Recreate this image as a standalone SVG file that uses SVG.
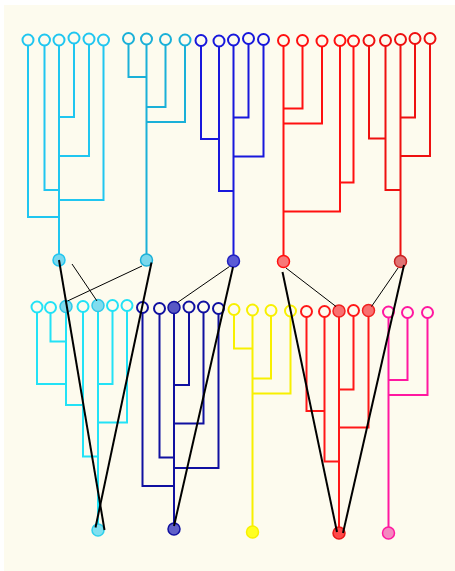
<svg xmlns="http://www.w3.org/2000/svg" width="455" height="571" viewBox="0 0 455 571">
<style>
.e{fill:none;stroke-width:2;stroke-linejoin:miter}
.lf{fill:none;stroke-width:2}
.rt{stroke-width:1.5}
.thick{stroke:#000;stroke-width:2;fill:none}
.thin{stroke:#000;stroke-width:1;fill:none}
</style>
<rect x="0" y="0" width="455" height="571" fill="#ffffff"/>
<rect x="4" y="5" width="451" height="566" fill="#fdfbee"/>

<g id="tree-top-cyan1" stroke="#20c6f0">
<path class="e" d="M28,45V217H59M44.5,45V190H59M59,45V254M74,43V117H59M89,44V156H59M103.5,45V200H59"/>
<g class="lf"><circle cx="28" cy="40" r="5.5"/><circle cx="44.5" cy="40" r="5.5"/><circle cx="59" cy="40" r="5.5"/><circle cx="74" cy="38" r="5.5"/><circle cx="89" cy="39" r="5.5"/><circle cx="103.5" cy="40" r="5.5"/></g>
<circle class="rt" cx="59" cy="260" r="6" fill="#7ad8ee"/>
</g>

<g id="tree-top-cyan2" stroke="#1ab0d8">
<path class="e" d="M128.5,44V77H146.5M146.5,44V254M165.5,45V107H146.5M185,45V122H146.5"/>
<g class="lf"><circle cx="128.5" cy="38.5" r="5.5"/><circle cx="146.5" cy="39" r="5.5"/><circle cx="165.5" cy="39.5" r="5.5"/><circle cx="185" cy="40" r="5.5"/></g>
<circle class="rt" cx="146.5" cy="260" r="6" fill="#7ad8ec"/>
</g>

<g id="tree-top-blue" stroke="#1818dc">
<path class="e" d="M201,46V139H219M219,46V191H233.5M233.5,45V255M248.5,44V117.5H233.5M263.5,45V156.5H233.5"/>
<g class="lf"><circle cx="201" cy="40.5" r="5.5"/><circle cx="219" cy="41" r="5.5"/><circle cx="233.5" cy="40" r="5.5"/><circle cx="248.5" cy="38.5" r="5.5"/><circle cx="263.5" cy="39.5" r="5.5"/></g>
<circle class="rt" cx="233.5" cy="261" r="6" fill="#5a5ad6" stroke="#2020c0"/>
</g>

<g id="tree-top-red1" stroke="#ff1010">
<path class="e" d="M283.5,46V256M302.5,46V108.5H283.5M322,46V123.5H283.5M340,46V211.5H283.5M353.5,46V182.5H340"/>
<g class="lf"><circle cx="283.5" cy="40.5" r="5.5"/><circle cx="302.5" cy="40.5" r="5.5"/><circle cx="322" cy="41" r="5.5"/><circle cx="340" cy="40.5" r="5.5"/><circle cx="353.5" cy="41" r="5.5"/></g>
<circle class="rt" cx="283.5" cy="261.5" r="6" fill="#f87878"/>
</g>

<g id="tree-top-red2" stroke="#ee1010">
<path class="e" d="M369,46V138.5H385.5M385.5,46V190H400.5M400.5,45V256M415,44V117.5H400.5M430,44V156H400.5"/>
<g class="lf"><circle cx="369" cy="40.5" r="5.5"/><circle cx="385.5" cy="40.5" r="5.5"/><circle cx="400.5" cy="39.5" r="5.5"/><circle cx="415" cy="38.5" r="5.5"/><circle cx="430" cy="38.5" r="5.5"/></g>
<circle class="rt" cx="400.5" cy="261.5" r="6" fill="#e07474" stroke="#c82020"/>
</g>

<g id="tree-bottom-cyan" stroke="#22e2f6">
<path class="e" d="M37,312V384H66M50.5,313V341.5H66M66,312V405H83M83,312V456.5H98M98,311V524M112.5,311V384H98M127,311V422.5H98"/>
<g class="lf"><circle cx="37" cy="307" r="5.5"/><circle cx="50.5" cy="307.5" r="5.5"/><circle cx="83" cy="306.5" r="5.5"/><circle cx="112.5" cy="305.5" r="5.5"/><circle cx="127" cy="305.5" r="5.5"/></g>
<circle class="rt" cx="66" cy="306.5" r="6" fill="#80dcee" stroke="#30c8e8"/>
<circle class="rt" cx="98" cy="305.5" r="6" fill="#80dcee" stroke="#30c8e8"/>
<circle class="rt" cx="98" cy="530" r="6" fill="#80e0f0" stroke="#30d0ec"/>
</g>

<g id="tree-bottom-navy" stroke="#1010a0">
<path class="e" d="M142.5,313V486H174M159.5,314V457.5H174M174,313V523M189,312V385H174M203.5,312V423.5H174M218.5,314V468H174"/>
<g class="lf"><circle cx="142.5" cy="307.5" r="5.5"/><circle cx="159.5" cy="308.5" r="5.5"/><circle cx="189" cy="307" r="5.5"/><circle cx="203.5" cy="307" r="5.5"/><circle cx="218.5" cy="308.5" r="5.5"/></g>
<circle class="rt" cx="174" cy="307.5" r="6" fill="#5858c4"/>
<circle class="rt" cx="174" cy="529" r="6" fill="#6060c8"/>
</g>

<g id="tree-bottom-yellow" stroke="#f8f000">
<path class="e" d="M234,315V348.5H252.5M252.5,315V526M271,316V378.5H252.5M290.5,316V393.5H252.5"/>
<g class="lf"><circle cx="234" cy="309.5" r="5.5"/><circle cx="252.5" cy="310" r="5.5"/><circle cx="271" cy="310.5" r="5.5"/><circle cx="290.5" cy="311" r="5.5"/></g>
<circle class="rt" cx="252.5" cy="532" r="6" fill="#ffff20"/>
</g>

<g id="tree-bottom-red" stroke="#ff1818">
<path class="e" d="M306.5,317V411H324.5M324.5,317V461.5H339M339,316V527M353.5,316V389.5H339M368.5,316V427.5H339"/>
<g class="lf"><circle cx="306.5" cy="311.5" r="5.5"/><circle cx="324.5" cy="311.5" r="5.5"/><circle cx="353.5" cy="310.5" r="5.5"/></g>
<circle class="rt" cx="339" cy="311" r="6" fill="#f87070" stroke="#f02020"/>
<circle class="rt" cx="368.5" cy="310.5" r="6" fill="#f87070" stroke="#f02020"/>
<circle class="rt" cx="339" cy="533" r="6" fill="#ff4848" stroke="#e81818"/>
</g>

<g id="tree-bottom-magenta" stroke="#ff18a0">
<path class="e" d="M388.5,317V527M407.5,318V380H388.5M427.5,318V395H388.5"/>
<g class="lf"><circle cx="388.5" cy="312" r="5.5"/><circle cx="407.5" cy="312.5" r="5.5"/><circle cx="427.5" cy="312.5" r="5.5"/></g>
<circle class="rt" cx="388.5" cy="533" r="6" fill="#f488c0"/>
</g>

<g id="connectors">
<line class="thick" x1="59" y1="260" x2="104.5" y2="530"/>
<line class="thick" x1="151.5" y1="262.5" x2="95.5" y2="527.5"/>
<line class="thick" x1="233" y1="267" x2="174" y2="526"/>
<line class="thick" x1="282.5" y1="272" x2="337" y2="532"/>
<line class="thick" x1="404" y1="265" x2="343" y2="533"/>
<line class="thin" x1="72" y1="264" x2="97" y2="301"/>
<line class="thin" x1="142" y1="266" x2="67.5" y2="301"/>
<line class="thin" x1="229.5" y1="266.5" x2="177.5" y2="302.5"/>
<line class="thin" x1="286" y1="268" x2="336" y2="306.5"/>
<line class="thin" x1="398" y1="268" x2="371.5" y2="306.5"/>
</g>
</svg>
